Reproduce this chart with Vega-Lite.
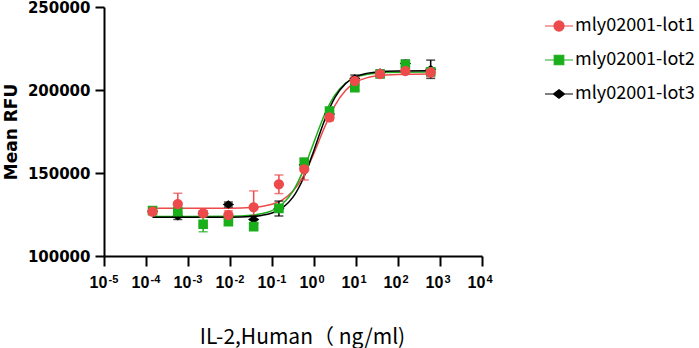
{
  "$schema": "https://vega.github.io/schema/vega-lite/v6.json",
  "width": 378,
  "height": 249,
  "autosize": "none",
  "padding": {"left": 104, "top": 7, "right": 217, "bottom": 92},
  "background": "white",
  "config": {"view": {"stroke": null}, "font": "Liberation Sans"},
  "datasets": {
    "pts": [
      {"s": "mly02001-lot3", "x": 0.000143, "y": 127000, "lo": 125500, "hi": 128500},
      {"s": "mly02001-lot3", "x": 0.000572, "y": 124000, "lo": 122000, "hi": 126000},
      {"s": "mly02001-lot3", "x": 0.00229, "y": 125500, "lo": 124000, "hi": 127000},
      {"s": "mly02001-lot3", "x": 0.00916, "y": 131000, "lo": 129500, "hi": 132500},
      {"s": "mly02001-lot3", "x": 0.0366, "y": 122000, "lo": 120000, "hi": 124000},
      {"s": "mly02001-lot3", "x": 0.146, "y": 128600, "lo": 124100, "hi": 133100},
      {"s": "mly02001-lot3", "x": 0.586, "y": 155000, "lo": 153000, "hi": 157000},
      {"s": "mly02001-lot3", "x": 2.34, "y": 185500, "lo": 184000, "hi": 187000},
      {"s": "mly02001-lot3", "x": 9.375, "y": 207000, "lo": 205000, "hi": 209000},
      {"s": "mly02001-lot3", "x": 37.5, "y": 210500, "lo": 209000, "hi": 212000},
      {"s": "mly02001-lot3", "x": 150, "y": 216000, "lo": 214000, "hi": 218000},
      {"s": "mly02001-lot3", "x": 600, "y": 212500, "lo": 207000, "hi": 218000},
      {"s": "mly02001-lot2", "x": 0.000143, "y": 127300, "lo": 126300, "hi": 128300},
      {"s": "mly02001-lot2", "x": 0.000572, "y": 126700, "lo": 124700, "hi": 128700},
      {"s": "mly02001-lot2", "x": 0.00229, "y": 119100, "lo": 114600, "hi": 123600},
      {"s": "mly02001-lot2", "x": 0.00916, "y": 120700, "lo": 118700, "hi": 122700},
      {"s": "mly02001-lot2", "x": 0.0366, "y": 117700, "lo": 116200, "hi": 119200},
      {"s": "mly02001-lot2", "x": 0.146, "y": 128700, "lo": 127200, "hi": 130200},
      {"s": "mly02001-lot2", "x": 0.586, "y": 156400, "lo": 153900, "hi": 158900},
      {"s": "mly02001-lot2", "x": 2.34, "y": 187300, "lo": 185800, "hi": 188800},
      {"s": "mly02001-lot2", "x": 9.375, "y": 201400, "lo": 199900, "hi": 202900},
      {"s": "mly02001-lot2", "x": 37.5, "y": 209600, "lo": 208100, "hi": 211100},
      {"s": "mly02001-lot2", "x": 150, "y": 215500, "lo": 213500, "hi": 217500},
      {"s": "mly02001-lot2", "x": 600, "y": 211000, "lo": 209000, "hi": 213000},
      {"s": "mly02001-lot1", "x": 0.000143, "y": 126700, "lo": 125200, "hi": 128200},
      {"s": "mly02001-lot1", "x": 0.000572, "y": 131300, "lo": 124800, "hi": 137800},
      {"s": "mly02001-lot1", "x": 0.00229, "y": 125700, "lo": 124200, "hi": 127200},
      {"s": "mly02001-lot1", "x": 0.00916, "y": 124700, "lo": 122200, "hi": 127200},
      {"s": "mly02001-lot1", "x": 0.0366, "y": 129300, "lo": 119400, "hi": 139200},
      {"s": "mly02001-lot1", "x": 0.146, "y": 143200, "lo": 137600, "hi": 148800},
      {"s": "mly02001-lot1", "x": 0.586, "y": 152200, "lo": 145800, "hi": 158600},
      {"s": "mly02001-lot1", "x": 2.34, "y": 183500, "lo": 181500, "hi": 185500},
      {"s": "mly02001-lot1", "x": 9.375, "y": 205400, "lo": 202900, "hi": 207900},
      {"s": "mly02001-lot1", "x": 37.5, "y": 209600, "lo": 208100, "hi": 211100},
      {"s": "mly02001-lot1", "x": 150, "y": 211400, "lo": 209900, "hi": 212900},
      {"s": "mly02001-lot1", "x": 600, "y": 210600, "lo": 208100, "hi": 213100}
    ],
    "fit": [
      {"s": "mly02001-lot1", "x": 0.000143, "y": 128700},
      {"s": "mly02001-lot1", "x": 0.001, "y": 128705},
      {"s": "mly02001-lot1", "x": 0.01, "y": 128812},
      {"s": "mly02001-lot1", "x": 0.0316, "y": 129234},
      {"s": "mly02001-lot1", "x": 0.0562, "y": 129841},
      {"s": "mly02001-lot1", "x": 0.1, "y": 131144},
      {"s": "mly02001-lot1", "x": 0.1778, "y": 133835},
      {"s": "mly02001-lot1", "x": 0.3162, "y": 139086},
      {"s": "mly02001-lot1", "x": 0.5623, "y": 148336},
      {"s": "mly02001-lot1", "x": 1, "y": 161926},
      {"s": "mly02001-lot1", "x": 1.7783, "y": 177466},
      {"s": "mly02001-lot1", "x": 3.1623, "y": 190777},
      {"s": "mly02001-lot1", "x": 5.6234, "y": 199706},
      {"s": "mly02001-lot1", "x": 10, "y": 204730},
      {"s": "mly02001-lot1", "x": 17.783, "y": 207288},
      {"s": "mly02001-lot1", "x": 31.623, "y": 208518},
      {"s": "mly02001-lot1", "x": 100, "y": 209369},
      {"s": "mly02001-lot1", "x": 600, "y": 209580},
      {"s": "mly02001-lot2", "x": 0.000143, "y": 123800},
      {"s": "mly02001-lot2", "x": 0.001, "y": 123800},
      {"s": "mly02001-lot2", "x": 0.01, "y": 123947},
      {"s": "mly02001-lot2", "x": 0.0316, "y": 124531},
      {"s": "mly02001-lot2", "x": 0.0562, "y": 125420},
      {"s": "mly02001-lot2", "x": 0.1, "y": 127343},
      {"s": "mly02001-lot2", "x": 0.1778, "y": 131352},
      {"s": "mly02001-lot2", "x": 0.3162, "y": 139062},
      {"s": "mly02001-lot2", "x": 0.5623, "y": 151875},
      {"s": "mly02001-lot2", "x": 1, "y": 168700},
      {"s": "mly02001-lot2", "x": 1.7783, "y": 185118},
      {"s": "mly02001-lot2", "x": 3.1623, "y": 197089},
      {"s": "mly02001-lot2", "x": 5.6234, "y": 204092},
      {"s": "mly02001-lot2", "x": 10, "y": 207668},
      {"s": "mly02001-lot2", "x": 17.783, "y": 209373},
      {"s": "mly02001-lot2", "x": 31.623, "y": 210157},
      {"s": "mly02001-lot2", "x": 100, "y": 210671},
      {"s": "mly02001-lot2", "x": 600, "y": 210800},
      {"s": "mly02001-lot3", "x": 0.000143, "y": 123300},
      {"s": "mly02001-lot3", "x": 0.001, "y": 123300},
      {"s": "mly02001-lot3", "x": 0.01, "y": 123394},
      {"s": "mly02001-lot3", "x": 0.0316, "y": 123797},
      {"s": "mly02001-lot3", "x": 0.0562, "y": 124437},
      {"s": "mly02001-lot3", "x": 0.1, "y": 125874},
      {"s": "mly02001-lot3", "x": 0.1778, "y": 129015},
      {"s": "mly02001-lot3", "x": 0.3162, "y": 135440},
      {"s": "mly02001-lot3", "x": 0.5623, "y": 147018},
      {"s": "mly02001-lot3", "x": 1, "y": 163768},
      {"s": "mly02001-lot3", "x": 1.7783, "y": 181666},
      {"s": "mly02001-lot3", "x": 3.1623, "y": 195521},
      {"s": "mly02001-lot3", "x": 5.6234, "y": 203821},
      {"s": "mly02001-lot3", "x": 10, "y": 208046},
      {"s": "mly02001-lot3", "x": 17.783, "y": 210022},
      {"s": "mly02001-lot3", "x": 31.623, "y": 210908},
      {"s": "mly02001-lot3", "x": 100, "y": 211469},
      {"s": "mly02001-lot3", "x": 600, "y": 211600}
    ],
    "exps": [
      {"x": 0.00001, "e": "-5"},
      {"x": 10000, "e": "4"}
    ]
  },
  "resolve": {"axis": {"x": "independent"}},
  "layer": [
    {
      "encoding": {
        "x": {
          "field": "x", "type": "quantitative",
          "scale": {"type": "log", "domain": [0.00001, 10000], "nice": false},
          "axis": {
            "orient": "bottom",
            "values": [0.00001, 0.0001, 0.001, 0.01, 0.1, 1, 10, 100, 1000, 10000],
            "labelExpr": "'10'",
            "labelOffset": -6,
            "grid": false,
            "domainColor": "black", "domainWidth": 2,
            "tickColor": "black", "tickWidth": 2, "tickSize": 10,
            "labelFont": "Liberation Sans", "labelFontSize": 16, "labelFontWeight": "bold", "labelColor": "black",
            "labelPadding": 8, "labelFlush": false, "labelOverlap": false,
            "title": "IL-2,Human（ ng/ml)",
            "titleFont": "Noto Sans CJK SC", "titleFontSize": 21, "titleFontWeight": "normal", "titleColor": "black",
            "titleX": 198, "titleY": 87, "titleAlign": "center", "titleBaseline": "alphabetic"
          }
        },
        "y": {
          "field": "y", "type": "quantitative",
          "scale": {"domain": [100000, 250000], "nice": false, "zero": false},
          "axis": {
            "values": [100000, 150000, 200000, 250000],
            "format": "d",
            "grid": false,
            "domainColor": "black", "domainWidth": 2,
            "tickColor": "black", "tickWidth": 2, "tickSize": 9,
            "labelFont": "DejaVu Sans", "labelFontSize": 15, "labelFontWeight": "bold", "labelColor": "black",
            "labelPadding": 5,
            "title": "Mean RFU",
            "titleFont": "DejaVu Sans", "titleFontSize": 17, "titleFontWeight": "bold", "titleColor": "black",
            "titlePadding": 7
          }
        }
      },
      "layer": [
        {
          "data": {"name": "fit"},
          "mark": {"type": "line", "strokeWidth": 1.5, "interpolate": "monotone"},
          "encoding": {
            "color": {
              "field": "s", "type": "nominal",
              "scale": {"domain": ["mly02001-lot1", "mly02001-lot2", "mly02001-lot3"], "range": ["#EC4A4B", "#1AAF1A", "#000000"]},
              "legend": {
                "title": null, "orient": "none", "legendX": 440, "legendY": 4,
                "labelFont": "Noto Sans CJK SC", "labelFontSize": 18, "labelColor": "black",
                "symbolSize": 784, "rowPadding": 10, "labelOffset": 1,
                "encode": {"symbols": {"update": {"stroke": {"scale": "color", "field": "value"}, "strokeWidth": {"value": 1.2}, "size": {"value": 784}}}}
              }
            }
          }
        },
        {
          "data": {"name": "pts"},
          "mark": {"type": "rule", "strokeWidth": 1.5},
          "encoding": {"y": {"field": "lo", "type": "quantitative"}, "y2": {"field": "hi"}, "color": {"field": "s", "type": "nominal"}}
        },
        {
          "data": {"name": "pts"},
          "mark": {"type": "tick", "orient": "horizontal", "size": 9, "thickness": 1.5},
          "encoding": {"y": {"field": "lo", "type": "quantitative"}, "color": {"field": "s", "type": "nominal"}}
        },
        {
          "data": {"name": "pts"},
          "mark": {"type": "tick", "orient": "horizontal", "size": 9, "thickness": 1.5},
          "encoding": {"y": {"field": "hi", "type": "quantitative"}, "color": {"field": "s", "type": "nominal"}}
        },
        {
          "data": {"name": "pts"},
          "mark": {"type": "point", "filled": true, "opacity": 1, "size": 800},
          "encoding": {
            "color": {"field": "s", "type": "nominal"},
            "shape": {
              "field": "s", "type": "nominal",
              "scale": {"domain": ["mly02001-lot1", "mly02001-lot2", "mly02001-lot3"],
                "range": ["M-1,0L1,0M-0.36,0A0.36,0.36,0,1,1,0.36,0A0.36,0.36,0,1,1,-0.36,0Z", "M-1,0L1,0M-0.34,-0.34L0.34,-0.34L0.34,0.34L-0.34,0.34Z", "M-1,0L1,0M0,-0.3L0.4,0L0,0.3L-0.4,0Z"]},
              "legend": {
                "title": null, "orient": "none", "legendX": 440, "legendY": 4,
                "labelFont": "Noto Sans CJK SC", "labelFontSize": 18, "labelColor": "black",
                "symbolSize": 784, "rowPadding": 10, "labelOffset": 1,
                "encode": {"symbols": {"update": {"stroke": {"scale": "color", "field": "value"}, "strokeWidth": {"value": 1.2}, "size": {"value": 784}}}}
              }
            }
          }
        }
      ]
    },
    {
      "data": {"name": "exps"},
      "mark": {"type": "text", "opacity": 0},
      "encoding": {
        "x": {
          "field": "x", "type": "quantitative",
          "axis": {
            "orient": "bottom",
            "values": [0.00001, 0.0001, 0.001, 0.01, 0.1, 1, 10, 100, 1000, 10000],
            "labelExpr": "['-5','-4','-3','-2','-1','0','1','2','3','4'][round(log(datum.value)/LN10)+5]",
            "domain": false, "ticks": false, "grid": false,
            "labelAlign": "left", "labelBaseline": "top", "labelOffset": 4,
            "labelFont": "Liberation Sans", "labelFontSize": 11, "labelFontWeight": "bold", "labelColor": "black",
            "labelPadding": 17, "labelFlush": false, "labelOverlap": false,
            "title": null
          }
        },
        "text": {"field": "e"}
      }
    }
  ]
}
